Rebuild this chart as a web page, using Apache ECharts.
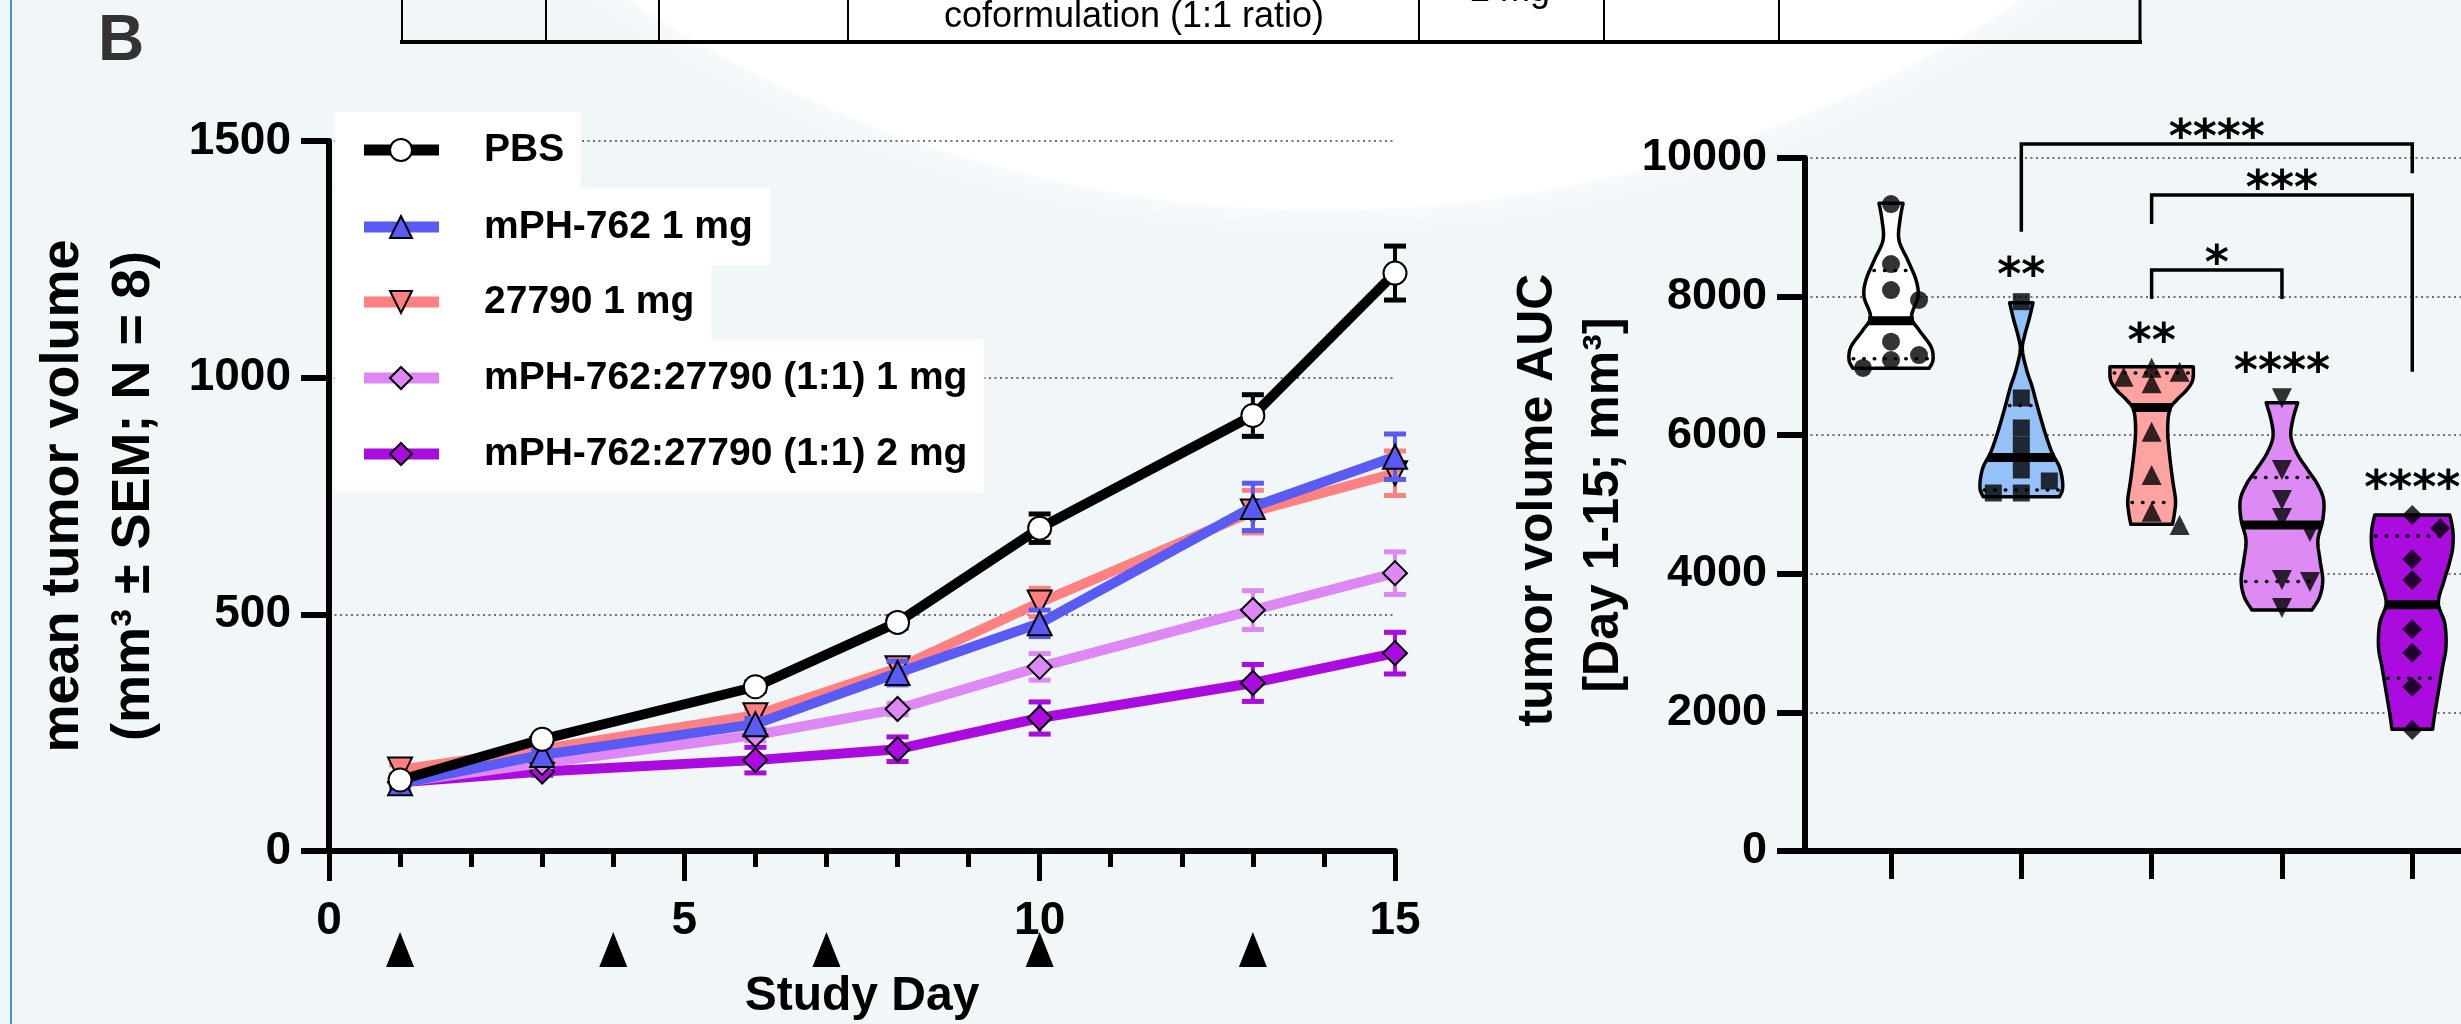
<!DOCTYPE html>
<html><head><meta charset="utf-8">
<script src="https://cdn.jsdelivr.net/npm/echarts@6/dist/echarts.min.js"></script>
<style>html,body{margin:0;padding:0;background:#f1f6f9}#c{width:2461px;height:1024px}</style>
</head><body><div id="c"></div>
<script>
// ---------------- DATA ----------------
const days = [1, 3, 6, 8, 10, 13, 15];
const dosingDays = [1, 4, 7, 10, 13];
const groupNames = ['PBS', 'mPH-762 1 mg', '27790 1 mg', 'mPH-762:27790 (1:1) 1 mg', 'mPH-762:27790 (1:1) 2 mg'];

const meanPBS   = [150, 236, 347, 483, 682, 920, 1221];
const semPBS    = [8, 8, 10, 12, 30, 44, 57];
const meanMPH   = [143, 203, 268, 376, 481, 727, 833];
const semMPH    = [8, 10, 12, 25, 28, 50, 48];
const mean27790 = [172, 215, 287, 386, 525, 717, 798];
const sem27790  = [10, 10, 13, 15, 30, 45, 47];
const meanCo1   = [145, 186, 245, 300, 389, 509, 587];
const semCo1    = [8, 8, 12, 12, 28, 41, 45];
const meanCo2   = [145, 168, 192, 215, 281, 355, 418];
const semCo2    = [8, 8, 27, 26, 34, 39, 44];

// AUC (Day 1-15) per animal
const aucPBS   = [9336, 8470, 8095, 7951, 7349, 7157, 7085, 6970];
const aucMPH   = [7927, 6537, 6104, 5858, 5498, 5339, 5166, 5166];
const auc27790 = [6974, 6916, 6844, 6748, 6051, 5426, 4896, 4704];
const aucCo1   = [6532, 5498, 5065, 4805, 4603, 3911, 3882, 3506];
const aucCo2   = [4848, 4656, 4209, 3911, 3199, 2862, 2371, 1746];

// violin outlines: [AUC value, half width (density, category units)]
const violinPBS   = [[9346,0.092],[9105,0.069],[8817,0.061],[8528,0.128],[8240,0.192],[7999,0.207],[7710,0.157],[7518,0.215],[7277,0.307],[7085,0.322],[6965,0.292]];
const violinMPH   = [[7912,0.090],[7662,0.058],[7421,0.023],[7229,0.008],[6941,0.041],[6700,0.083],[6460,0.117],[6219,0.153],[5978,0.192],[5738,0.238],[5545,0.292],[5354,0.315],[5209,0.315],[5113,0.292]];
const violin27790 = [[6988,0.320],[6797,0.315],[6652,0.269],[6508,0.192],[6364,0.138],[6075,0.123],[5738,0.136],[5354,0.161],[5065,0.183],[4873,0.175],[4714,0.160]];
const violinCo1   = [[6469,0.121],[6219,0.083],[5978,0.069],[5738,0.115],[5498,0.198],[5300,0.270],[5065,0.320],[4776,0.313],[4488,0.276],[4199,0.292],[3911,0.313],[3670,0.290],[3478,0.230]];
const violinCo2   = [[4848,0.288],[4632,0.311],[4387,0.311],[4149,0.284],[3911,0.246],[3579,0.200],[3290,0.249],[2948,0.259],[2660,0.233],[2371,0.207],[1987,0.173],[1756,0.156]];

// significance
const vsPBSLabels     = ['', '**', '**', '****', '****'];
const bracketFrom     = [2, 3, 3];
const bracketTo       = [5, 5, 4];
const bracketLevel    = [10202, 9466, 8384];
const bracketLeftEnd  = [8937, 9048, 7965];
const bracketRightEnd = [9779, 6916, 7965];
const bracketLabels   = ['****', '***', '*'];

// ---------------- STYLE ----------------
const FONT = '"Liberation Sans", Arial, sans-serif';
const STAR_FONT = 'bold 46px "DejaVu Sans", sans-serif';
const lineColors = ['#000000', '#5a5af5', '#ff8080', '#dd88f5', '#ab0be0'];
const markerFill = ['#ffffff', '#5a5af5', '#ff8080', '#dd88f5', '#ab0be0'];
const violinFill = ['#ffffff', '#94c2f8', '#ffa2a2', '#dd8af5', '#aa0ce0'];
const lineSymbols = ['circle', 'triangle', 'triangle', 'diamond', 'diamond'];
const lineSymRot = [0, 0, 180, 0, 0];
const dotSymbols = ['circle', 'rect', 'triangle', 'triangle', 'diamond'];
const dotSymRot = [0, 0, 0, 180, 0];
const dotSizes = [18, 17, 20, 20, 20];

const means = [meanPBS, meanMPH, mean27790, meanCo1, meanCo2];
const sems = [semPBS, semMPH, sem27790, semCo1, semCo2];
const aucs = [aucPBS, aucMPH, auc27790, aucCo1, aucCo2];
const violins = [violinPBS, violinMPH, violin27790, violinCo1, violinCo2];

// grid geometry
const G0 = {left: 329, top: 141, width: 1066, height: 710};
const G1 = {left: 1805, top: 158, width: 656, height: 693};
const X1MIN = 0.34, X1MAX = 5.374;
const xUnitPx = G1.width / (X1MAX - X1MIN);
const yPxPerUnit = G1.height / 10000;

// ---------------- helpers ----------------
function quantile(arr, p) {
  const s = arr.slice().sort((a, b) => a - b);
  const pos = (s.length + 1) * p; // GraphPad style
  const lo = Math.floor(pos), f = pos - lo;
  if (lo < 1) return s[0];
  if (lo >= s.length) return s[s.length - 1];
  return s[lo - 1] + f * (s[lo] - s[lo - 1]);
}
function halfWidthAt(outline, v) {
  for (let i = 0; i < outline.length - 1; i++) {
    const a = outline[i], b = outline[i + 1];
    if (v <= a[0] && v >= b[0]) {
      const t = (a[0] - v) / (a[0] - b[0]);
      return a[1] + t * (b[1] - a[1]);
    }
  }
  return outline[outline.length - 1][1];
}
function swarm(vals, markerPx, stepPx) {
  const placed = [];
  return vals.map(v => {
    for (const k of [0, 1, -1, 2, -2]) {
      if (!placed.some(p => p.k === k && Math.abs(p.v - v) * yPxPerUnit < markerPx)) {
        placed.push({v, k});
        return k * stepPx / xUnitPx;
      }
    }
    return 0;
  });
}
function catmull(pts, seg) {
  const out = [];
  for (let i = 0; i < pts.length - 1; i++) {
    const p0 = pts[Math.max(0, i - 1)], p1 = pts[i], p2 = pts[i + 1], p3 = pts[Math.min(pts.length - 1, i + 2)];
    for (let s = 0; s < seg; s++) {
      const t = s / seg, t2 = t * t, t3 = t2 * t;
      const f = (a, b, c, d) => 0.5 * ((2 * b) + (-a + c) * t + (2 * a - 5 * b + 4 * c - d) * t2 + (-a + 3 * b - 3 * c + d) * t3);
      out.push([f(p0[0], p1[0], p2[0], p3[0]), f(p0[1], p1[1], p2[1], p3[1])]);
    }
  }
  out.push(pts[pts.length - 1]);
  return out;
}
function symbolPoints(kind, cx, cy, s) {
  const h = s / 2;
  if (kind === 'up') return [[cx, cy - h], [cx + h, cy + h], [cx - h, cy + h]];
  if (kind === 'down') return [[cx - h, cy - h], [cx + h, cy - h], [cx, cy + h]];
  return [[cx, cy - h], [cx + h, cy], [cx, cy + h], [cx - h, cy]];
}

// ---------------- series ----------------
const series = [];
// left chart: error bars + lines (drawn bottom to top: 2 mg, 1 mg, 27790, mPH, PBS)
for (let g = 0; g < 5; g++) {
  const zBase = 2 + (4 - g) * 2;
  const color = lineColors[g];
  series.push({
    type: 'custom', xAxisIndex: 0, yAxisIndex: 0, z: zBase, silent: true,
    data: days.map((d, i) => [d, means[g][i], sems[g][i]]),
    encode: {x: 0, y: 1},
    renderItem: (params, api) => {
      const x = api.value(0), m = api.value(1), s = api.value(2);
      const t = api.coord([x, m + s]), b = api.coord([x, m - s]);
      const hw = 11;
      return {type: 'group', children: [
        {type: 'line', shape: {x1: t[0], y1: t[1], x2: b[0], y2: b[1]}, style: {stroke: color, lineWidth: 4}},
        {type: 'line', shape: {x1: t[0] - hw, y1: t[1], x2: t[0] + hw, y2: t[1]}, style: {stroke: color, lineWidth: 5}},
        {type: 'line', shape: {x1: b[0] - hw, y1: b[1], x2: b[0] + hw, y2: b[1]}, style: {stroke: color, lineWidth: 5}}
      ]};
    }
  });
  series.push({
    type: 'line', name: groupNames[g], xAxisIndex: 0, yAxisIndex: 0, z: zBase + 1, silent: true,
    data: days.map((d, i) => [d, means[g][i]]),
    symbol: lineSymbols[g], symbolRotate: lineSymRot[g],
    symbolSize: lineSymbols[g] === 'circle' ? 23 : 24,
    itemStyle: {color: markerFill[g], borderColor: '#000', borderWidth: 2},
    lineStyle: {color: color, width: 10},
    emphasis: {disabled: true}
  });
}
// dosing day markers under the x axis
series.push({
  type: 'custom', xAxisIndex: 0, yAxisIndex: 0, silent: true, z: 20,
  data: dosingDays.map(d => [d, 0]),
  renderItem: (params, api) => {
    const p = api.coord([api.value(0), 0]);
    return {type: 'polygon', shape: {points: [[p[0], p[1] + 81], [p[0] + 14, p[1] + 116], [p[0] - 14, p[1] + 116]]}, style: {fill: '#000'}};
  }
});

// right chart: violins
series.push({
  type: 'custom', xAxisIndex: 1, yAxisIndex: 1, silent: true, z: 3,
  data: aucs.map((a, i) => [i + 1, quantile(a, 0.5)]),
  renderItem: (params, api) => {
    const g = params.dataIndex;
    const ol = violins[g];
    const cx = g + 1;
    const right = ol.map(([v, w]) => api.coord([cx + w, v]));
    const left = ol.map(([v, w]) => api.coord([cx - w, v]));
    const r = catmull(right, 8), l = catmull(left, 8).reverse();
    const poly = r.concat(l);
    const children = [{type: 'polygon', shape: {points: poly}, style: {fill: violinFill[g], stroke: '#000', lineWidth: 3.5, lineJoin: 'round'}}];
    const med = quantile(aucs[g], 0.5), q1 = quantile(aucs[g], 0.25), q3 = quantile(aucs[g], 0.75);
    [q1, q3].forEach(q => {
      const w = halfWidthAt(ol, q);
      const a = api.coord([cx - w, q]), b = api.coord([cx + w, q]);
      children.push({type: 'line', shape: {x1: a[0] + 4, y1: a[1], x2: b[0] - 4, y2: b[1]}, style: {stroke: '#000', lineWidth: 3.5, lineDash: [0.5, 10], lineCap: 'round'}});
    });
    const wm = halfWidthAt(ol, med);
    const a = api.coord([cx - wm, med]), b = api.coord([cx + wm, med]);
    children.push({type: 'line', shape: {x1: a[0], y1: a[1], x2: b[0], y2: b[1]}, style: {stroke: '#000', lineWidth: 9}});
    return {type: 'group', children};
  }
});
// right chart: individual animals
for (let g = 0; g < 5; g++) {
  const offs = swarm(aucs[g], 14, 28);
  series.push({
    type: 'scatter', name: groupNames[g] + ' AUC', xAxisIndex: 1, yAxisIndex: 1, z: 5, silent: true,
    data: aucs[g].map((v, i) => [g + 1 + offs[i], v]),
    symbol: dotSymbols[g], symbolRotate: dotSymRot[g], symbolSize: dotSizes[g],
    itemStyle: {color: '#000'}, emphasis: {disabled: true}
  });
}
// significance vs PBS labels
series.push({
  type: 'custom', xAxisIndex: 1, yAxisIndex: 1, silent: true, z: 6,
  data: aucs.map((a, i) => [i + 1, Math.max.apply(null, a)]),
  renderItem: (params, api) => {
    const p = api.coord([api.value(0), api.value(1)]);
    return {type: 'text', x: p[0], y: p[1] - 24, style: {text: vsPBSLabels[params.dataIndex], font: STAR_FONT, fill: '#000', align: 'center', verticalAlign: 'middle'}};
  }
});
// comparison brackets
series.push({
  type: 'custom', xAxisIndex: 1, yAxisIndex: 1, silent: true, z: 6,
  data: bracketFrom.map((f, i) => [f, bracketLevel[i]]),
  renderItem: (params, api) => {
    const i = params.dataIndex;
    const a = api.coord([bracketFrom[i], bracketLevel[i]]);
    const b = api.coord([bracketTo[i], bracketLevel[i]]);
    const ae = api.coord([bracketFrom[i], bracketLeftEnd[i]]);
    const be = api.coord([bracketTo[i], bracketRightEnd[i]]);
    return {type: 'group', children: [
      {type: 'polyline', shape: {points: [[a[0], ae[1]], [a[0], a[1]], [b[0], b[1]], [b[0], be[1]]]}, style: {stroke: '#000', lineWidth: 3.5, fill: 'none'}},
      {type: 'text', x: (a[0] + b[0]) / 2, y: a[1] - 4, style: {text: bracketLabels[i], font: STAR_FONT, fill: '#000', align: 'center', verticalAlign: 'middle'}}
    ]};
  }
});

// ---------------- graphics (background, legend, titles) ----------------
const graphics = [];
graphics.push({type: 'circle', z: -100, silent: true, shape: {cx: 1325, cy: -1047, r: 1257}, style: {fill: '#ffffff', shadowBlur: 40, shadowColor: '#ffffff'}});
graphics.push({type: 'line', z: 100, silent: true, shape: {x1: 11, y1: 0, x2: 11, y2: 1024}, style: {stroke: '#3d9ad0', lineWidth: 2}});
// table fragment at the top
[402, 546, 659, 848, 1419, 1604, 1779, 2140].forEach((x, i, arr) => {
  graphics.push({type: 'line', silent: true, shape: {x1: x, y1: 0, x2: x, y2: 42}, style: {stroke: '#000', lineWidth: i === arr.length - 1 ? 3 : 2}});
});
graphics.push({type: 'line', silent: true, shape: {x1: 400, y1: 42, x2: 2142, y2: 42}, style: {stroke: '#000', lineWidth: 4}});
graphics.push({type: 'text', silent: true, x: 1134, y: 17, style: {text: 'coformulation (1:1 ratio)', font: '36px ' + FONT, fill: '#000', align: 'center', verticalAlign: 'middle'}});
graphics.push({type: 'text', silent: true, x: 1510, y: 9, style: {text: '2 mg', font: '36px ' + FONT, fill: '#000', align: 'center', verticalAlign: 'bottom'}});
graphics.push({type: 'text', silent: true, x: 121, y: 42, style: {text: 'B', font: 'bold 64px ' + FONT, fill: '#333', align: 'center', verticalAlign: 'middle'}});

// legend
const rowY = [150, 227, 302, 378, 454];
for (let g = 0; g < 5; g++) {
  const y = rowY[g];
  graphics.push({type: 'text', silent: true, z: 30, x: 335, y: y, style: {text: groupNames[g], font: 'bold 39px ' + FONT, fill: '#000', verticalAlign: 'middle', backgroundColor: '#ffffff', padding: [19, 17, 19, 149]}});
  graphics.push({type: 'line', silent: true, z: 31, shape: {x1: 364, y1: y, x2: 439, y2: y}, style: {stroke: lineColors[g], lineWidth: 11}});
  const sym = g === 0 ? null : (g === 1 ? 'up' : g === 2 ? 'down' : 'diamond');
  if (sym === null) {
    graphics.push({type: 'circle', silent: true, z: 32, shape: {cx: 401, cy: y, r: 11}, style: {fill: markerFill[g], stroke: '#000', lineWidth: 2}});
  } else {
    graphics.push({type: 'polygon', silent: true, z: 32, shape: {points: symbolPoints(sym, 401, y, 22)}, style: {fill: markerFill[g], stroke: '#000', lineWidth: 2}});
  }
}
// axis titles
const TITLE_FONT = 'bold 48px ' + FONT;
const YTITLE_L = 'bold 54px ' + FONT;
const YTITLE_R = 'bold 50px ' + FONT;
graphics.push({type: 'text', silent: true, x: 63, y: 496, rotation: Math.PI / 2, style: {text: 'mean tumor volume', font: YTITLE_L, fill: '#000', align: 'center', verticalAlign: 'middle'}});
graphics.push({type: 'text', silent: true, x: 134, y: 496, rotation: Math.PI / 2, style: {text: '(mm³ ± SEM; N = 8)', font: YTITLE_L, fill: '#000', align: 'center', verticalAlign: 'middle'}});
graphics.push({type: 'text', silent: true, x: 862, y: 997, style: {text: 'Study Day', font: TITLE_FONT, fill: '#000', align: 'center', verticalAlign: 'middle'}});
graphics.push({type: 'text', silent: true, x: 1538, y: 500, rotation: Math.PI / 2, style: {text: 'tumor volume AUC', font: YTITLE_R, fill: '#000', align: 'center', verticalAlign: 'middle'}});
graphics.push({type: 'text', silent: true, x: 1604, y: 505, rotation: Math.PI / 2, style: {text: '[Day 1-15; mm³]', font: YTITLE_R, fill: '#000', align: 'center', verticalAlign: 'middle'}});

// ---------------- option ----------------
const axisLine = {show: true, onZero: false, lineStyle: {color: '#000', width: 6}};
const plain = v => String(v);
const labelStyle = {fontSize: 45, fontWeight: 'bold', fontFamily: FONT, color: '#000', formatter: plain};
const gridDots = {show: true, lineStyle: {color: '#444', width: 1.5, type: [2, 3.5]}};

const option = {
  backgroundColor: '#f1f6f9',
  animation: false,
  grid: [
    Object.assign({containLabel: false}, G0),
    Object.assign({containLabel: false}, G1)
  ],
  xAxis: [
    {gridIndex: 0, type: 'value', min: 0, max: 15, interval: 5, axisLine,
      axisTick: {show: true, length: 30, lineStyle: {color: '#000', width: 5}},
      minorTick: {show: true, splitNumber: 5, length: 16, lineStyle: {color: '#000', width: 5}},
      axisLabel: Object.assign({}, labelStyle, {margin: 47, fontSize: 46}),
      splitLine: {show: false}, minorSplitLine: {show: false}},
    {gridIndex: 1, type: 'value', min: X1MIN, max: X1MAX, axisLine,
      axisTick: {show: true, customValues: [1, 2, 3, 4, 5], length: 28, lineStyle: {color: '#000', width: 5}},
      axisLabel: {show: false}, splitLine: {show: false}}
  ],
  yAxis: [
    {gridIndex: 0, type: 'value', min: 0, max: 1500, interval: 500, axisLine,
      axisTick: {show: true, length: 28, lineStyle: {color: '#000', width: 6}},
      axisLabel: Object.assign({}, labelStyle, {margin: 38, fontSize: 46}),
      splitLine: gridDots},
    {gridIndex: 1, type: 'value', min: 0, max: 10000, interval: 2000, axisLine,
      axisTick: {show: true, length: 28, lineStyle: {color: '#000', width: 6}},
      axisLabel: Object.assign({}, labelStyle, {margin: 38}),
      splitLine: gridDots}
  ],
  graphic: {elements: graphics},
  series
};
const chart = echarts.init(document.getElementById('c'), null, {renderer: 'canvas', width: 2461, height: 1024});
chart.setOption(option);
</script>
</body></html>
